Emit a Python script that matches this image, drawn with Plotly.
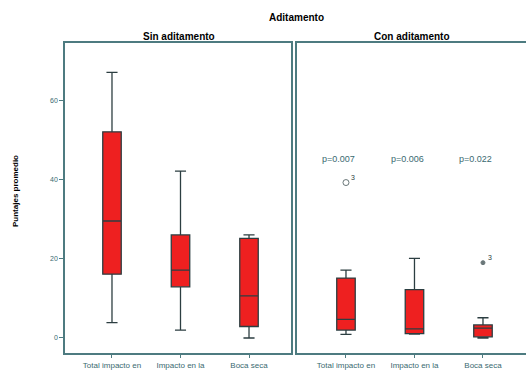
import plotly.graph_objects as go

categories = ["Total impacto en<br>la salud", "Impacto en la<br>salud", "Boca seca"]

# Sin aditamento
sin_q1 = [16.1, 12.9, 2.9]
sin_median = [29.5, 17.1, 10.6]
sin_q3 = [52.0, 26.0, 25.1]
sin_low = [3.9, 2.0, 0.0]
sin_high = [67.0, 42.1, 26.0]

# Con aditamento
con_q1 = [2.0, 1.1, 0.3]
con_median = [4.7, 2.3, 2.5]
con_q3 = [15.1, 12.2, 3.3]
con_low = [0.9, 1.0, 0.0]
con_high = [17.1, 20.1, 5.1]

outlier_cat = [categories[0], categories[2]]
outlier_val = [39.2, 19.0]
outlier_lbl = ["3", "3"]
outlier_symbol = ["circle-open", "circle"]
outlier_size = [6, 4]

p_values = ["p=0.007", "p=0.006", "p=0.022"]
p_y = 45.1

yticks = [0, 20, 40, 60]

W, H = 526, 371
FILL = "#ee2020"
LINE = "#2c3e41"
AX = "#4d7b80"
TXT = "#3a6a70"
FONT = "Liberation Sans"

fig = go.Figure()
fig.add_trace(go.Box(
    x=categories, q1=sin_q1, median=sin_median, q3=sin_q3,
    lowerfence=sin_low, upperfence=sin_high,
    fillcolor=FILL, line=dict(color=LINE, width=1.3), width=0.27,
    whiskerwidth=0.6, boxpoints=False, showlegend=False,
    xaxis="x", yaxis="y"))
fig.add_trace(go.Box(
    x=categories, q1=con_q1, median=con_median, q3=con_q3,
    lowerfence=con_low, upperfence=con_high,
    fillcolor=FILL, line=dict(color=LINE, width=1.3), width=0.27,
    whiskerwidth=0.6, boxpoints=False, showlegend=False,
    xaxis="x2", yaxis="y2"))
fig.add_trace(go.Scatter(
    x=outlier_cat, y=outlier_val, mode="markers",
    marker=dict(symbol=outlier_symbol, size=outlier_size, color=LINE,
                line=dict(color=LINE, width=1)),
    showlegend=False, xaxis="x2", yaxis="y2"))

for c, v, l in zip(outlier_cat, outlier_val, outlier_lbl):
    fig.add_annotation(x=c, y=v, xref="x2", yref="y2", text=l, showarrow=False,
                       xshift=7, yshift=5, font=dict(family=FONT, size=7, color=LINE))

for c, p in zip(categories, p_values):
    fig.add_annotation(x=c, y=p_y, xref="x2", yref="y2", text=p, showarrow=False,
                       xshift=-7, font=dict(family=FONT, size=9, color=TXT))

y0, y1 = 1 - 352.5 / H, 1 - 43 / H
axis_common = dict(showline=True, linecolor=AX, linewidth=1.5, mirror=True,
                   ticklen=4, tickcolor=AX, showgrid=False,
                   zeroline=False, tickfont=dict(family=FONT, size=7, color=TXT))
xtickfont = dict(family=FONT, size=8, color=TXT)

fig.update_layout(
    width=W, height=H, autosize=False, margin=dict(l=0, r=0, t=0, b=0, autoexpand=False),
    paper_bgcolor="white", plot_bgcolor="white",
    xaxis=dict(domain=[65 / W, 291 / W], type="category", range=[-0.686, 2.613],
               anchor="y", ticks="outside", automargin=False, **{**axis_common, "tickfont": xtickfont}),
    yaxis=dict(domain=[y0, y1], range=[-3.66, 74.4], tickvals=yticks, automargin=False,
               anchor="x", ticks="outside", **axis_common),
    xaxis2=dict(domain=[297 / W, 1.0], type="category", range=[-0.715, 2.628], automargin=False,
                anchor="y2", ticks="outside", **{**axis_common, "tickfont": xtickfont}),
    yaxis2=dict(domain=[y0, y1], range=[-3.66, 74.4], tickvals=yticks, ticks="", automargin=False,
                showticklabels=False, anchor="x2", **axis_common),
)

fig.add_annotation(x=296 / W, y=1 - 18 / H, xref="paper", yref="paper", text="<b>Aditamento</b>",
                   xanchor="center", yanchor="middle",
                   showarrow=False, font=dict(family=FONT, size=10, color="black"))
fig.add_annotation(x=179 / W, y=1 - 37 / H, xref="paper", yref="paper", text="<b>Sin aditamento</b>",
                   xanchor="center", yanchor="middle",
                   showarrow=False, font=dict(family=FONT, size=10, color="black"))
fig.add_annotation(x=412 / W, y=1 - 37 / H, xref="paper", yref="paper", text="<b>Con aditamento</b>",
                   xanchor="center", yanchor="middle",
                   showarrow=False, font=dict(family=FONT, size=10, color="black"))
fig.add_annotation(x=15 / W, y=1 - 191 / H, xref="paper", yref="paper", text="<b>Puntajes promedio</b>",
                   xanchor="center", yanchor="middle",
                   textangle=-90, showarrow=False, font=dict(family=FONT, size=8, color="black"))

fig.write_html("out.html", config={"displayModeBar": False, "responsive": False},
               post_script="document.body.style.margin='0';")
